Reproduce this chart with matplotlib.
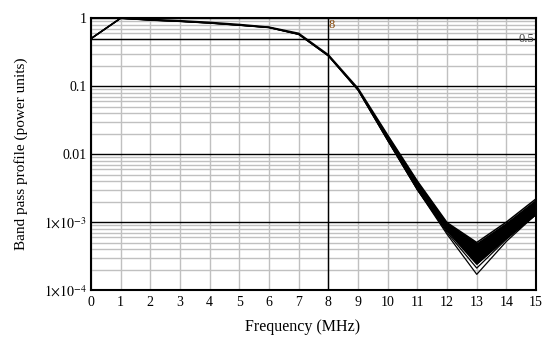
import matplotlib.pyplot as plt

plt.rcParams['font.family'] = ['Liberation Serif', 'DejaVu Serif']
plt.rcParams['mathtext.fontset'] = 'stix'

freq = [0, 1, 2, 3, 4, 5, 6, 7, 8, 9, 10, 11, 12, 13, 14, 15]
# envelope of the family of band pass curves
upper = [0.5, 1.0, 0.96, 0.92, 0.87, 0.81, 0.74, 0.60, 0.29, 0.093, 0.019,
         0.0040, 0.00098, 0.00050, 0.00100, 0.0022]
lower = [0.5, 1.0, 0.94, 0.90, 0.85, 0.79, 0.73, 0.58, 0.28, 0.088, 0.016,
         0.0030, 0.00074, 0.00024, 0.00058, 0.0013]
# two outlying curves below the bundle
low_a = [0.5, 1.0, 0.94, 0.90, 0.85, 0.79, 0.73, 0.58, 0.28, 0.088, 0.016,
         0.0030, 0.00070, 0.00021, 0.00056, 0.0013]
low_b = [0.5, 1.0, 0.94, 0.90, 0.85, 0.79, 0.73, 0.58, 0.28, 0.088, 0.016,
         0.0030, 0.00066, 0.00017, 0.00052, 0.0013]

x_ticks = list(range(16))
y_ticks = [1e-4, 1e-3, 0.01, 0.1, 1]
y_labels = [r"$1{\times}10^{-4}$", r"$1{\times}10^{-3}$", "0.01", "0.1", "1"]
marker_x = 8
marker_y = 0.5

fig = plt.figure(figsize=(5.51, 3.44), dpi=100)
ax = fig.add_axes([0.165, 0.157, 0.808, 0.79])

ax.set_yscale('log')
ax.set_xlim(0, 15)
ax.set_ylim(1e-4, 1)

# grid: grey verticals and minor horizontals, black decades
for x in x_ticks:
    ax.axvline(x, color='#c0c0c0', lw=1, zorder=0)
for dec in [1e-4, 1e-3, 0.01, 0.1]:
    for m in range(2, 10):
        ax.axhline(dec * m, color='#c0c0c0', lw=1, zorder=0)
for y in y_ticks:
    ax.axhline(y, color='black', lw=1, zorder=1)

ax.axvline(marker_x, color='black', lw=1, zorder=1)
ax.axhline(marker_y, color='black', lw=1, zorder=1)
ax.text(marker_x + 0.02, 0.96, "8", color='#804000', fontsize=9,
        ha='left', va='top')
ax.text(14.95, marker_y, "0.5", color='#404040', fontsize=9,
        ha='right', va='center')

ax.fill_between(freq, lower, upper, color='black', lw=0, zorder=2)
ax.plot(freq, upper, color='black', lw=1.1, zorder=3)
ax.plot(freq, lower, color='black', lw=1.1, zorder=3)
ax.plot(freq, low_a, color='black', lw=0.9, zorder=3)
ax.plot(freq, low_b, color='black', lw=0.9, zorder=3)

ax.set_xticks(x_ticks)
ax.set_xticklabels([str(x) for x in x_ticks])
ax.set_yticks(y_ticks)
ax.set_yticklabels(y_labels)
ax.minorticks_off()
ax.tick_params(axis='x', length=0, labelsize=10, pad=4)
ax.tick_params(axis='y', length=0, labelsize=10, pad=3)

for s in ax.spines.values():
    s.set_linewidth(1.5)
    s.set_color('black')

ax.set_xlabel("Frequency (MHz)", fontsize=11.5, va='center')
ax.set_ylabel("Band pass profile (power units)", fontsize=11, va='center')
ax.xaxis.set_label_coords(0.476, -0.137)
ax.yaxis.set_label_coords(-0.157, 0.5)

fig.savefig("out.png", dpi=100)
